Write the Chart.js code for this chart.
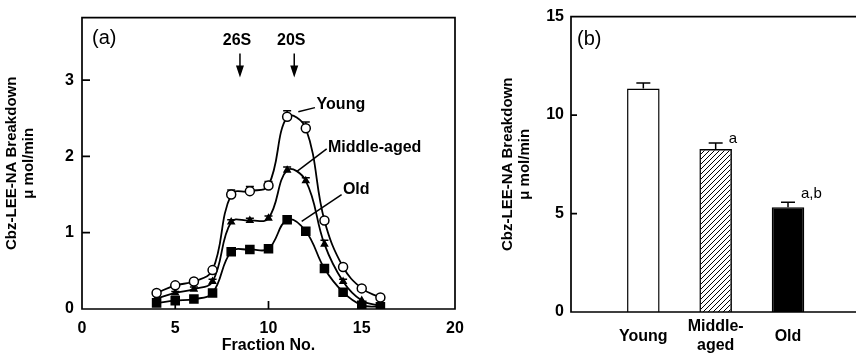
<!DOCTYPE html>
<html>
<head>
<meta charset="utf-8">
<script src="https://cdn.jsdelivr.net/npm/chart.js@4.4.1/dist/chart.umd.min.js"></script>
<style>
  html, body { margin: 0; padding: 0; background: #fff; }
  #fracChart { position: absolute; left: 0; top: 0; }
  #barChart { position: absolute; left: 470px; top: 0; }
</style>
</head>
<body>
<canvas id="fracChart" width="480" height="354"></canvas>
<canvas id="barChart" width="386" height="354"></canvas>
<script>
// panel (a): activity per glycerol gradient fraction
const fractions = [4, 5, 6, 7, 8, 9, 10, 11, 12, 13, 14, 15, 16];
const young     = [0.21, 0.31, 0.36, 0.51, 1.50, 1.545, 1.62, 2.52, 2.37, 1.16, 0.55, 0.27, 0.15];
const youngErr  = [0, 0, 0, 0, 0.06, 0.06, 0.05, 0.08, 0.08, 0, 0, 0, 0];
const middle    = [0.14, 0.21, 0.26, 0.36, 1.14, 1.16, 1.19, 1.82, 1.68, 0.85, 0.36, 0.11, 0.04];
const middleErr = [0, 0.02, 0.03, 0.03, 0.03, 0.03, 0.03, 0.04, 0.04, 0.05, 0.03, 0, 0];
const old       = [0.08, 0.11, 0.13, 0.21, 0.75, 0.78, 0.79, 1.17, 1.02, 0.53, 0.22, 0.05, 0.03];
const oldErr    = [0, 0, 0, 0, 0, 0, 0, 0, 0, 0, 0, 0, 0];
const fracTicks = [0, 5, 10, 15, 20];
const actTicks  = [0, 1, 2, 3];

// panel (b): totals
const groups    = ['Young', ['Middle-', 'aged'], 'Old'];
const totals    = [11.35, 8.28, 5.32];
const totalErr  = [0.28, 0.30, 0.25];
const totalMark = ['', 'a', 'a,b'];
const totTicks  = [0, 5, 10, 15];

Chart.defaults.font.family = '"Liberation Sans", Arial, Helvetica, sans-serif';
Chart.defaults.color = '#000';

const yTitle = ['Cbz-LEE-NA Breakdown', '\u03bc mol/min'];

function makeHatch() {
  const c = document.createElement('canvas');
  c.width = 5; c.height = 5;
  const g = c.getContext('2d');
  g.strokeStyle = '#000';
  g.lineWidth = 1;
  g.beginPath();
  g.moveTo(0, 5); g.lineTo(5, 0);
  g.moveTo(-1, 1); g.lineTo(1, -1);
  g.moveTo(4, 6); g.lineTo(6, 4);
  g.stroke();
  return g.createPattern(c, 'repeat');
}

// frame box + inward tick marks
const framePlugin = {
  id: 'frame',
  afterDraw(chart, args, opts) {
    const { ctx, chartArea: a, scales } = chart;
    ctx.save();
    ctx.strokeStyle = '#000';
    ctx.lineWidth = 1.7;
    ctx.beginPath();
    if (opts.closed) {
      ctx.rect(a.left, a.top, a.right - a.left, a.bottom - a.top);
    } else {
      ctx.moveTo(a.right, a.top); ctx.lineTo(a.left, a.top);
      ctx.lineTo(a.left, a.bottom); ctx.lineTo(a.right, a.bottom);
    }
    const ys = scales.y;
    ys.ticks.forEach(t => {
      if (t.value <= ys.min || t.value >= ys.max) return;
      const y = ys.getPixelForValue(t.value);
      ctx.moveTo(a.left, y); ctx.lineTo(a.left + opts.tick, y);
    });
    if (opts.xTicks) {
      const xs = scales.x;
      xs.ticks.forEach(t => {
        if (t.value <= xs.min || t.value >= xs.max) return;
        const x = xs.getPixelForValue(t.value);
        ctx.moveTo(x, a.bottom); ctx.lineTo(x, a.bottom - opts.tick);
      });
    }
    ctx.stroke();
    ctx.restore();
  }
};

// upper error bars, drawn under the markers
const lineErrPlugin = {
  id: 'lineErr',
  beforeDatasetsDraw(chart) {
    const { ctx, scales: { y } } = chart;
    ctx.save();
    ctx.strokeStyle = '#000';
    ctx.lineWidth = 1.5;
    chart.data.datasets.forEach((ds, di) => {
      const meta = chart.getDatasetMeta(di);
      meta.data.forEach((pt, i) => {
        const e = ds.err[i];
        if (!e) return;
        const top = y.getPixelForValue(ds.data[i].y + e);
        ctx.beginPath();
        ctx.moveTo(pt.x, pt.y); ctx.lineTo(pt.x, top);
        ctx.moveTo(pt.x - 4, top); ctx.lineTo(pt.x + 4, top);
        ctx.stroke();
      });
    });
    ctx.restore();
  }
};

const fracNotes = {
  id: 'fracNotes',
  afterDraw(chart) {
    const { ctx, chartArea: a, scales: { x, y } } = chart;
    ctx.save();
    ctx.fillStyle = '#000';
    ctx.strokeStyle = '#000';
    ctx.textBaseline = 'middle';
    ctx.font = '20px "Liberation Sans", Arial, sans-serif';
    ctx.textAlign = 'left';
    ctx.fillText('(a)', a.left + 10, a.top + 21);

    // sedimentation markers
    ctx.font = 'bold 16px "Liberation Sans", Arial, sans-serif';
    ctx.textAlign = 'center';
    [['26S', 8.47], ['20S', 11.38]].forEach(([t, f]) => {
      const px = x.getPixelForValue(f);
      ctx.fillText(t, px - 3, a.top + 23);
      ctx.lineWidth = 1.5;
      ctx.beginPath();
      ctx.moveTo(px, a.top + 36); ctx.lineTo(px, a.top + 50);
      ctx.stroke();
      ctx.beginPath();
      ctx.moveTo(px - 4, a.top + 48); ctx.lineTo(px + 4, a.top + 48); ctx.lineTo(px, a.top + 60);
      ctx.closePath();
      ctx.fill();
    });

    // curve labels with leader lines
    ctx.textAlign = 'left';
    ctx.lineWidth = 1.5;
    [
      ['Young', [11.6, 2.585], [12.49, 2.64], [12.58, 2.68]],
      ['Middle-aged', [11.51, 1.80], [13.12, 2.10], [13.19, 2.12]],
      ['Old', [11.78, 1.15], [13.92, 1.50], [13.99, 1.56]]
    ].forEach(([t, p0, p1, pt]) => {
      ctx.beginPath();
      ctx.moveTo(x.getPixelForValue(p0[0]), y.getPixelForValue(p0[1]));
      ctx.lineTo(x.getPixelForValue(p1[0]), y.getPixelForValue(p1[1]));
      ctx.stroke();
      ctx.fillText(t, x.getPixelForValue(pt[0]), y.getPixelForValue(pt[1]));
    });
    ctx.restore();
  }
};

const barNotes = {
  id: 'barNotes',
  afterDatasetsDraw(chart) {
    const { ctx, chartArea: a, scales: { y } } = chart;
    const meta = chart.getDatasetMeta(0);
    ctx.save();
    ctx.strokeStyle = '#000';
    ctx.fillStyle = '#000';
    ctx.lineWidth = 1.5;
    meta.data.forEach((bar, i) => {
      const top = y.getPixelForValue(totals[i] + totalErr[i]);
      ctx.beginPath();
      ctx.moveTo(bar.x, bar.y); ctx.lineTo(bar.x, top);
      ctx.moveTo(bar.x - 7, top); ctx.lineTo(bar.x + 7, top);
      ctx.stroke();
      if (totalMark[i]) {
        ctx.font = '15px "Liberation Sans", Arial, sans-serif';
        ctx.textAlign = 'left';
        ctx.textBaseline = 'alphabetic';
        ctx.fillText(totalMark[i], bar.x + 13, top - (i === 2 ? 4 : 0));
      }
    });
    ctx.font = '20px "Liberation Sans", Arial, sans-serif';
    ctx.textAlign = 'left';
    ctx.textBaseline = 'middle';
    ctx.fillText('(b)', a.left + 6, a.top + 23);
    ctx.restore();
  }
};

function series(vals) {
  return fractions.map((f, i) => ({ x: f, y: vals[i] }));
}

const lineCommon = {
  borderColor: '#000',
  borderWidth: 1.8,
  tension: 0.4,
  pointBorderColor: '#000',
  pointBorderWidth: 1.5
};

const titleFont = { size: 15, weight: 'bold', lineHeight: 1.15 };

new Chart(document.getElementById('fracChart'), {
  type: 'line',
  data: {
    datasets: [
      Object.assign({ label: 'Young', data: series(young), err: youngErr,
        pointStyle: 'circle', pointRadius: 4.5, pointBackgroundColor: '#fff' }, lineCommon),
      Object.assign({ label: 'Middle-aged', data: series(middle), err: middleErr,
        pointStyle: 'triangle', pointRadius: 3.5, pointBackgroundColor: '#000' }, lineCommon),
      Object.assign({ label: 'Old', data: series(old), err: oldErr,
        pointStyle: 'rect', pointRadius: 5.7, pointBackgroundColor: '#000' }, lineCommon)
    ]
  },
  options: {
    responsive: false,
    animation: false,
    layout: { padding: { left: 0, top: 14, right: 25, bottom: 0 } },
    plugins: {
      legend: { display: false },
      tooltip: { enabled: false },
      frame: { closed: true, tick: 8, xTicks: true }
    },
    scales: {
      x: {
        type: 'linear', min: 0, max: 20,
        grid: { display: false, drawTicks: false },
        border: { display: false },
        afterBuildTicks: s => { s.ticks = fracTicks.map(v => ({ value: v })); },
        afterFit: s => { s.height = 45; },
        ticks: { padding: 10, maxRotation: 0, font: { size: 16, weight: 'bold' } },
        title: { display: true, text: 'Fraction No.', padding: 0,
          font: { size: 16, weight: 'bold', lineHeight: 1 } }
      },
      y: {
        min: 0, max: 3.82,
        grid: { display: false, drawTicks: false },
        border: { display: false },
        afterBuildTicks: s => { s.ticks = actTicks.map(v => ({ value: v })); },
        afterFit: s => { s.width = 82; },
        ticks: { padding: 8, font: { size: 16, weight: 'bold' } },
        title: { display: true, text: yTitle, padding: { top: 3, bottom: 0 }, font: titleFont }
      }
    }
  },
  plugins: [lineErrPlugin, framePlugin, fracNotes]
});

new Chart(document.getElementById('barChart'), {
  type: 'bar',
  data: {
    datasets: [{
      data: totals.map((v, i) => ({ x: i + 1, y: v })),
      backgroundColor: ['#fff', makeHatch(), '#000'],
      borderColor: '#000',
      borderWidth: 1.5,
      categoryPercentage: 1,
      barPercentage: 0.45
    }]
  },
  options: {
    responsive: false,
    animation: false,
    layout: { padding: { left: 26, top: 14, right: 0, bottom: 0 } },
    plugins: {
      legend: { display: false },
      tooltip: { enabled: false },
      frame: { closed: false, tick: 6, xTicks: false }
    },
    scales: {
      x: {
        type: 'linear', min: 0, max: 3.94, offset: false,
        grid: { display: false, drawTicks: false },
        border: { display: false },
        afterBuildTicks: s => { s.ticks = groups.map((g, i) => ({ value: i + 1 })); },
        afterFit: s => { s.height = 42; },
        ticks: {
          callback: (v, i) => groups[i],
          crossAlign: 'center', padding: 15, maxRotation: 0,
          font: { size: 16, weight: 'bold', lineHeight: 1.15 }
        }
      },
      y: {
        min: 0, max: 15,
        grid: { display: false, drawTicks: false },
        border: { display: false },
        afterBuildTicks: s => { s.ticks = totTicks.map(v => ({ value: v })); },
        afterFit: s => { s.width = 75; },
        ticks: { padding: 7, font: { size: 16, weight: 'bold' } },
        title: { display: true, text: yTitle, padding: { top: 3, bottom: 0 }, font: titleFont }
      }
    }
  },
  plugins: [framePlugin, barNotes]
});
</script>
</body>
</html>
